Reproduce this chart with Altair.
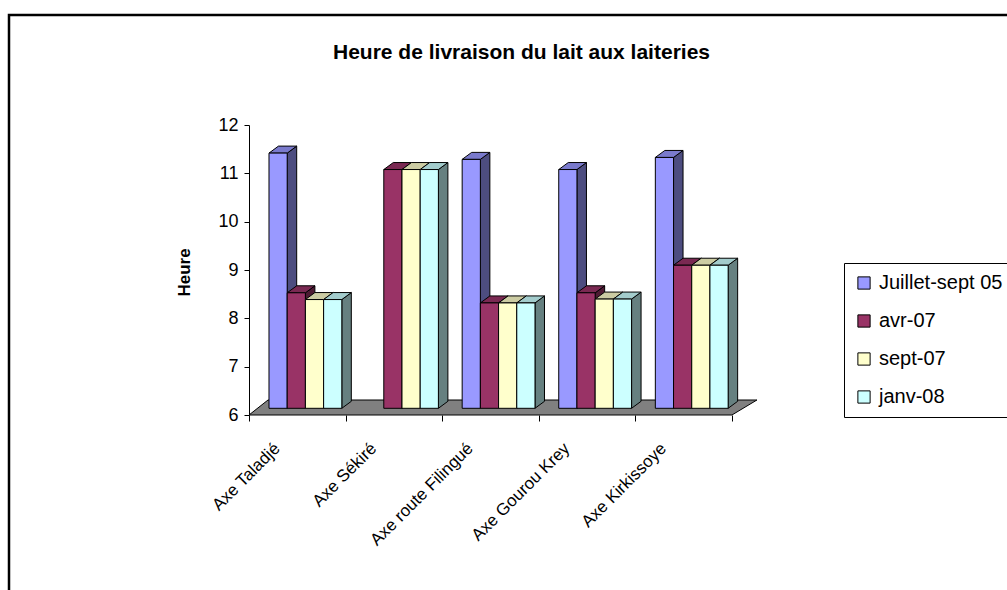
import altair as alt
import pandas as pd

# ---------------- data ----------------
categories = ["Axe Taladjé", "Axe Sékiré", "Axe route Filingué", "Axe Gourou Krey", "Axe Kirkissoye"]
series = ["Juillet-sept 05", "avr-07", "sept-07", "janv-08"]
juillet_sept_05 = [11.28, None, 11.15, 10.94, 11.19]
avr_07 = [8.39, 10.94, 8.18, 8.39, 8.96]
sept_07 = [8.25, 10.94, 8.18, 8.26, 8.96]
janv_08 = [8.25, 10.94, 8.18, 8.26, 8.96]
y_ticks = [6, 7, 8, 9, 10, 11, 12]

values = [juillet_sept_05, avr_07, sept_07, janv_08]

# ---------------- style ----------------
front_colors = ["#9999FF", "#993366", "#FFFFCC", "#CCFFFF"]
top_colors = ["#7A7ACC", "#7A2952", "#CCCCA3", "#A3CCCC"]
side_colors = ["#4D4D80", "#4D1A33", "#808066", "#668080"]
FONT = "Liberation Sans"

W, H = 509, 290
X_MAX = 5.27
Y_MIN, Y_MAX = 6, 12
px_x = W / X_MAX
px_y = H / (Y_MAX - Y_MIN)

bar_start = 0.207
bar_w = 0.1885
depth_dx = 9.5 / px_x
depth_dy = 7.0 / px_y
plane_dy = 6.7 / px_y
floor_dx_l = 19 / px_x
floor_dx_r = 25 / px_x
floor_dy = 15 / px_y

# ---------------- derived tables ----------------
front_rows, side_rows, top_rows = [], [], []
for s, (name, vals) in enumerate(zip(series, values)):
    for i, (cat, v) in enumerate(zip(categories, vals)):
        if v is None:
            continue
        xl = i + bar_start + s * bar_w
        xr = xl + bar_w
        base = Y_MIN + plane_dy
        top = v + plane_dy
        bid = f"{s}-{i}"
        front_rows.append(dict(series=name, cat=cat, x=xl, x2=xr, y=base, y2=top, value=v))
        side_rows.append(dict(bar=bid, fill=side_colors[s], x=xr, ylo=base, yhi=top))
        side_rows.append(dict(bar=bid, fill=side_colors[s], x=xr + depth_dx, ylo=base + depth_dy, yhi=top + depth_dy))
        top_rows.append(dict(bar=bid, fill=top_colors[s], y=top, xa=xl, xb=xr))
        top_rows.append(dict(bar=bid, fill=top_colors[s], y=top + depth_dy, xa=xl + depth_dx, xb=xr + depth_dx))

front_df = pd.DataFrame(front_rows)
side_df = pd.DataFrame(side_rows)
top_df = pd.DataFrame(top_rows)
n = len(categories)
floor_df = pd.DataFrame(dict(y=[Y_MIN, Y_MIN + floor_dy], xa=[0, floor_dx_l], xb=[n, n + floor_dx_r]))
cat_df = pd.DataFrame(dict(cat=categories, pos=[i + 0.5 for i in range(n)]))

# ---------------- encodings ----------------
xscale = alt.Scale(domain=[0, X_MAX], nice=False, zero=False)
yscale = alt.Scale(domain=[Y_MIN, Y_MAX], nice=False, zero=False)
xaxis = alt.Axis(values=list(range(n + 1)), labels=False, domain=False, ticks=True, tickSize=6,
                 tickColor="black", grid=False, title=None)
yaxis = alt.Axis(values=y_ticks, title="Heure", titleFontSize=17, titleFont=FONT, titleFontWeight="bold",
                 titleColor="black", titleAngle=270, titleX=-65, titleY=147, titleAlign="center",
                 titleBaseline="middle", labelFontSize=18, labelFont=FONT, labelColor="black",
                 labelPadding=6, tickSize=5, tickColor="black", domainColor="black", grid=False)


def X(f):
    return alt.X(f, type="quantitative", scale=xscale, axis=xaxis)


def Y(f):
    return alt.Y(f, type="quantitative", scale=yscale, axis=yaxis)


floor = alt.Chart(floor_df).mark_area(orient="horizontal", fill="#808080", stroke="black", strokeWidth=1).encode(
    y=Y("y"), x=X("xa"), x2="xb")

side = alt.Chart(side_df).mark_area(orient="vertical", stroke="black", strokeWidth=1).encode(
    x=X("x"), y=Y("ylo"), y2="yhi", fill=alt.Fill("fill:N", scale=None), detail="bar:N")

topf = alt.Chart(top_df).mark_area(orient="horizontal", stroke="black", strokeWidth=1).encode(
    y=Y("y"), x=X("xa"), x2="xb", fill=alt.Fill("fill:N", scale=None), detail="bar:N")

legend = alt.Legend(title=None, orient="none", legendX=595, legendY=138, symbolType="square",
                    symbolSize=150, symbolStrokeColor="black", symbolStrokeWidth=1,
                    labelFontSize=20, labelFont=FONT, labelColor="black", rowPadding=18,
                    padding=10, strokeColor="black", fillColor="white", labelOffset=5)

front = alt.Chart(front_df).mark_bar(stroke="black", strokeWidth=1).encode(
    x=X("x"), x2="x2", y=Y("y"), y2="y2",
    color=alt.Color("series:N", scale=alt.Scale(domain=series, range=front_colors), legend=legend))

labels = alt.Chart(cat_df).mark_text(angle=315, align="right", baseline="middle", fontSize=17, font=FONT,
                                     color="black", xOffset=-20).encode(
    x=X("pos"), y=alt.value(H + 31), text="cat:N")

border = alt.Chart(pd.DataFrame({"a": [0]})).mark_rect(fillOpacity=0, stroke="black", strokeWidth=2.5).encode(
    x=alt.value(9 - 249), x2=alt.value(1007 - 249 + 20), y=alt.value(15 - 125), y2=alt.value(590 - 125 + 20))

chart = alt.layer(floor, side, topf, front, labels, border).properties(
    width=W, height=H,
    autosize=alt.AutoSizeParams(type="none"),
    padding={"left": 249, "top": 125, "right": 249, "bottom": 175},
    background="white",
    title=alt.TitleParams("Heure de livraison du lait aux laiteries", fontSize=21, font=FONT,
                          fontWeight="bold", color="black", anchor="middle", frame="group",
                          dx=18, offset=-66, baseline="alphabetic"),
).configure_view(stroke=None)

chart.save("out.html", embed_options={"renderer": "svg", "actions": False})
